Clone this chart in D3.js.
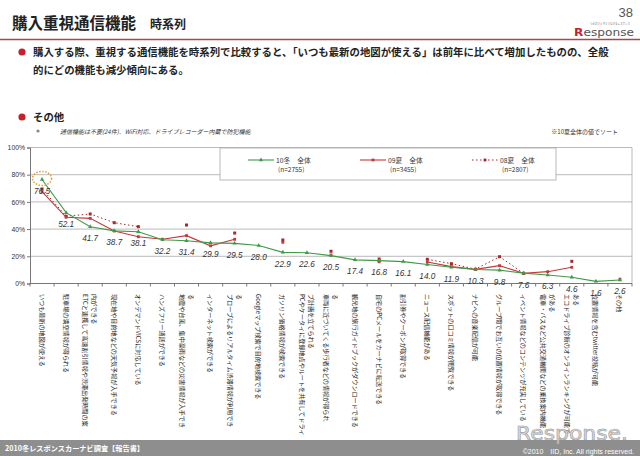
<!DOCTYPE html>
<html><head><meta charset="utf-8">
<script src="https://cdn.jsdelivr.net/npm/d3@7"></script>
<style>
body{margin:0;background:#fff;}
svg{display:block;font-family:"Noto Sans CJK JP","Noto Sans",sans-serif;}
</style>
</head><body>
<svg id="c" width="640" height="456"></svg>
<script>
// ---------- data ----------
const categories = [
  "いつも最新の地図が使える",
  "駐車場の満空情報が得られる",
  "ETCと連携して高速割引情報や渋滞出発時間の案\n内ができる",
  "現在地や目的地などの天気予報が入手できる",
  "オンデマンドVICSに対応している",
  "ハンズフリー通話ができる",
  "地震や台風、集中豪雨などの災害情報が入手でき\nる",
  "インターネット検索ができる",
  "プローブによるリアルタイム渋滞情報が利用でき\nる",
  "Googleマップ検索で目的地検索できる",
  "ガソリン価格情報が検索できる",
  "PCやケータイに登録地点やルートを共有してドライ\nブ計画を立てられる",
  "車両に近づいてくる歩行者などの情報が得られ\nる",
  "観光地の旅行ガイドブックがダウンロードできる",
  "自宅のPCメールをカーナビに転送できる",
  "割引券やクーポンが取得できる",
  "ニュース配信機能がある",
  "スポットの口コミ情報が閲覧できる",
  "ナビへの音楽配信が可能",
  "グループ間でお互いの位置情報が取得できる",
  "イベント情報などのコンテンツが充実している",
  "電車・バスなど公共交通機関などの乗換案内機能\nがある",
  "エコドライブ診断のオンラインランキングが可能で\nある",
  "位置情報を含むtwitter投稿が可能",
  "その他"
];
const values10w = [76.5,52.1,41.7,38.7,38.1,32.2,31.4,29.9,29.5,28.0,22.9,22.6,20.5,17.4,16.8,16.1,14.0,11.9,10.3,9.8,7.6,6.3,4.6,1.6,2.6];
const values09s = [67.5,48.7,47.9,38.6,34.4,32.5,35.2,27.7,32.5,null,30.3,null,21.0,null,16.0,null,15.8,12.4,10.4,13.1,7.5,8.7,11.9,null,3.2];
const values08s = [69.5,49.5,51.1,44.7,41.8,null,43.0,null,37.1,null,32.0,null,23.7,null,18.0,null,17.8,14.6,10.5,19.7,7.5,null,16.3,null,null];
const seriesNames = ["10冬　全体","09夏　全体","08夏　全体"];
const seriesN = ["(n=2755)","(n=3455)","(n=2807)"];
const yTicks = [0,20,40,60,80,100];

// ---------- layout ----------
const svg = d3.select("#c");
const L = 30, R = 632, T = 147.5, B = 283.5;
const x = d3.scaleBand().domain(d3.range(categories.length)).range([L, R]);
const cx = i => x(i) + x.bandwidth()/2;
const y = d3.scaleLinear().domain([0,100]).range([B, T]);
const green = "#3f9a47", red = "#c0393b", red8 = "#a8282a";

// ---------- header ----------
svg.append("text").attr("x",12).attr("y",29).attr("font-size",15.5).attr("font-weight","bold")
  .attr("fill","#222").text("購入重視通信機能");
svg.append("text").attr("x",150).attr("y",29).attr("font-size",12).attr("font-weight","bold")
  .attr("fill","#222").text("時系列");
svg.append("text").attr("x",633).attr("y",17).attr("font-size",13).attr("text-anchor","end")
  .attr("fill","#555").attr("font-family","Liberation Sans, Arial").text("38");
const logo = svg.append("text").attr("x",574).attr("y",35.5).attr("font-size",11)
  .attr("font-family","DejaVu Sans, sans-serif").attr("textLength",60).attr("lengthAdjust","spacingAndGlyphs");
logo.append("tspan").attr("fill","#c8202a").attr("font-weight","bold").text("R");
logo.append("tspan").attr("fill","#555").text("esponse");
svg.append("text").attr("x",590).attr("y",24.5).attr("font-size",3).attr("fill","#777")
  .attr("textLength",40).attr("lengthAdjust","spacingAndGlyphs")
  .text("つぎのクルマとつながるレスポンス");
svg.append("line").attr("x1",0).attr("x2",640).attr("y1",39.5).attr("y2",39.5)
  .attr("stroke","#a24a4c").attr("stroke-width",1.6);

// bullets
svg.append("circle").attr("cx",22).attr("cy",52).attr("r",3.6).attr("fill","#c8202a");
svg.append("text").attr("x",33).attr("y",56).attr("font-size",10.4).attr("font-weight","bold").attr("fill","#222")
  .text("購入する際、重視する通信機能を時系列で比較すると、「いつも最新の地図が使える」は前年に比べて増加したものの、全般");
svg.append("text").attr("x",33).attr("y",74).attr("font-size",10.4).attr("font-weight","bold").attr("fill","#222")
  .text("的にどの機能も減少傾向にある。");
svg.append("circle").attr("cx",22).attr("cy",117).attr("r",3.6).attr("fill","#c8202a");
svg.append("text").attr("x",33).attr("y",121).attr("font-size",10.4).attr("font-weight","bold").attr("fill","#222")
  .text("その他");
svg.append("circle").attr("cx",38).attr("cy",131).attr("r",1.6).attr("fill","#888");
svg.append("text").attr("x",60).attr("y",133.5).attr("font-size",6).attr("font-style","italic").attr("fill","#333")
  .text("通信機能は不要(24件)、WiFi対応、ドライブレコーダー内蔵で防犯機能");
svg.append("text").attr("x",618).attr("y",133.5).attr("font-size",6).attr("text-anchor","end").attr("fill","#333")
  .text("※10夏全体の値でソート");

// ---------- grid & axes ----------
const g = svg.append("g");
g.selectAll(".grid").data(yTicks.filter(t=>t>0)).join("line")
  .attr("x1",L).attr("x2",R).attr("y1",d=>y(d)).attr("y2",d=>y(d))
  .attr("stroke","#a8a8a8").attr("stroke-width",0.8);
g.append("line").attr("x1",R).attr("x2",R).attr("y1",T).attr("y2",B).attr("stroke","#a8a8a8").attr("stroke-width",0.8);

const yAxis = d3.axisLeft(y).tickValues(yTicks).tickSize(3).tickFormat(d=>d+"%");
const ya = g.append("g").attr("transform",`translate(${L},0)`).call(yAxis);
ya.select(".domain").attr("stroke","#777");
ya.selectAll(".tick line").attr("stroke","#777");
ya.selectAll(".tick text").attr("font-size",6.8).attr("fill","#333").attr("x",-5)
  .attr("font-family","Liberation Sans, Arial, sans-serif");

const xa = g.append("g").attr("transform",`translate(0,${B})`);
xa.append("line").attr("x1",L).attr("x2",R).attr("stroke","#777");
xa.selectAll(".xt").data(d3.range(categories.length+1)).join("line")
  .attr("x1",i=>L+i*x.bandwidth()).attr("x2",i=>L+i*x.bandwidth()).attr("y1",0).attr("y2",3)
  .attr("stroke","#777");

// category labels (rotated)
const lab = g.selectAll(".cl").data(categories).join("g")
  .attr("transform",(d,i)=>`translate(${cx(i)},294) rotate(90)`);
lab.each(function(d){
  const lines = d.split("\n"); const n = lines.length;
  d3.select(this).selectAll("text").data(lines).join("text")
    .attr("x",0).attr("y",(l,j)=>((n-1)/2 - j)*9)
    .attr("dominant-baseline","central").attr("font-size",6.1).attr("fill","#222")
    .text(l=>l);
});

// ---------- series ----------
function drawSeries(vals, color, width, dash, marker, msize){
  const line = d3.line().defined(v=>v!=null).x((v,i)=>cx(i)).y(v=>y(v));
  g.append("path").datum(vals).attr("d",line).attr("fill","none")
    .attr("stroke",color).attr("stroke-width",width).attr("stroke-dasharray",dash);
  g.selectAll(null).data(vals.map((v,i)=>({v,i})).filter(d=>d.v!=null)).join("path")
    .attr("transform",d=>`translate(${cx(d.i)},${y(d.v)})`)
    .attr("d",d3.symbol().type(marker).size(msize)).attr("fill",color);
}
drawSeries(values08s, red8, 1, "1.5,2.5", d3.symbolSquare, 9);
drawSeries(values09s, red, 1.1, null, d3.symbolSquare, 8);
drawSeries(values10w, green, 1.1, null, d3.symbolTriangle, 8);

// data labels
g.selectAll(".dl").data(values10w).join("text")
  .attr("x",(v,i)=>cx(i)).attr("y",v=>y(v)+12)
  .attr("text-anchor","middle").attr("dominant-baseline","central")
  .attr("font-size",8.2).attr("font-style","italic").attr("fill","#333")
  .attr("font-family","Liberation Sans, Arial, sans-serif")
  .text(v=>v.toFixed(1));

// highlight ellipse
g.append("ellipse").attr("cx",cx(0)).attr("cy",y(values10w[0])-1).attr("rx",9.5).attr("ry",7)
  .attr("fill","none").attr("stroke","#eb9a30").attr("stroke-width",1.5).attr("stroke-dasharray","1.5,1.5");

// ---------- legend ----------
const lg = svg.append("g");
lg.append("rect").attr("x",220).attr("y",148).attr("width",336).attr("height",32)
  .attr("fill","#fff").attr("stroke","#a8a8a8").attr("stroke-width",0.8);
const lx = [248, 360, 472];
const lcol = [green, red, red8];
const ldash = [null, null, "1.5,2.5"];
const lsym = [d3.symbolTriangle, d3.symbolSquare, d3.symbolSquare];
lx.forEach((x0,k)=>{
  lg.append("line").attr("x1",x0).attr("x2",x0+26).attr("y1",160).attr("y2",160)
    .attr("stroke",lcol[k]).attr("stroke-width",k==2?1:1.1).attr("stroke-dasharray",ldash[k]);
  lg.append("path").attr("transform",`translate(${x0+13},160)`).attr("d",d3.symbol().type(lsym[k]).size(8)).attr("fill",lcol[k]);
  lg.append("text").attr("x",x0+28).attr("y",160).attr("dominant-baseline","central")
    .attr("font-size",6.8).attr("fill","#333").text(seriesNames[k]);
  lg.append("text").attr("x",x0+30).attr("y",168.5).attr("dominant-baseline","central")
    .attr("font-size",6.5).attr("fill","#333").text(seriesN[k]);
});

// ---------- footer ----------
svg.append("rect").attr("x",0).attr("y",440).attr("width",640).attr("height",16).attr("fill","#8e8e8e");
svg.append("text").attr("x",516).attr("y",439.5).attr("font-size",20).attr("font-family","DejaVu Sans, sans-serif")
  .attr("textLength",112).attr("lengthAdjust","spacingAndGlyphs")
  .attr("fill","#d6d6d6").attr("fill-opacity",0.85).attr("stroke","#9a9a9a").attr("stroke-width",0.6)
  .text("Response.");
svg.append("text").attr("x",5).attr("y",451).attr("font-size",7.2).attr("font-weight","bold").attr("fill","#fff")
  .text("2010冬レスポンスカーナビ調査【報告書】");
svg.append("text").attr("x",634).attr("y",453.5).attr("font-size",7).attr("text-anchor","end").attr("fill","#fff")
  .attr("font-family","Liberation Sans, Arial, sans-serif")
  .text("©2010　IID, Inc. All rights reserved.");
</script>
</body></html>
